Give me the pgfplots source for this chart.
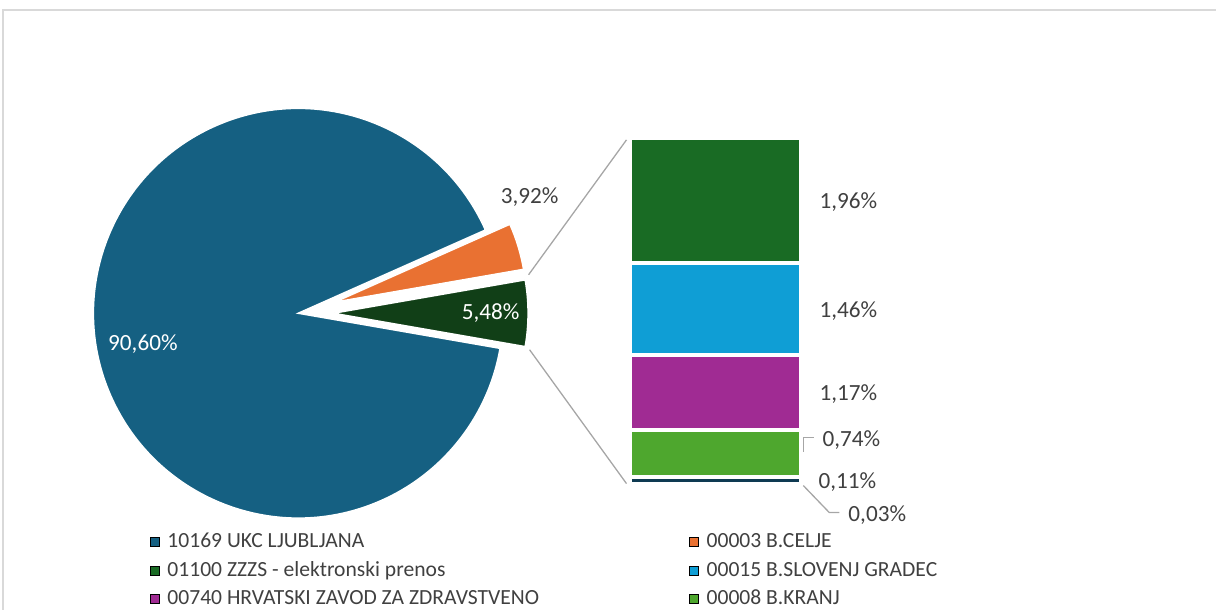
\documentclass[border=0pt]{standalone}
\usepackage{pgfplots}
\pgfplotsset{compat=1.18}
\usepackage{fontspec}
\setmainfont{Carlito}
\definecolor{c1}{HTML}{156082}
\definecolor{c2}{HTML}{E97132}
\definecolor{c3}{HTML}{196B24}
\definecolor{c4}{HTML}{0F9ED5}
\definecolor{c5}{HTML}{A02B93}
\definecolor{c6}{HTML}{4EA72E}
\definecolor{c7}{HTML}{0E3A52}
\definecolor{c8}{HTML}{8C4416}
\definecolor{cO}{HTML}{113F17}
\definecolor{txt}{HTML}{404040}
\definecolor{lgray}{HTML}{A6A6A6}
\definecolor{frame}{HTML}{D9D9D9}
% data (percent)
\def\vUKC{90.60}
\def\vCEL{3.92}
\def\vOTH{5.48}
\begin{document}
\begin{tikzpicture}
\pgfmathsetmacro\aO{\vOTH*1.8}
\pgfmathsetmacro\aC{\aO+\vCEL*3.6}
\pgfmathsetmacro\bC{(\aO+\aC)/2}
\pgfmathsetmacro\eU{360-\aO}
\pgfmathsetmacro\oxC{298.5+38*cos(\bC)}
\pgfmathsetmacro\oyC{296.5+38*sin(\bC)}
\pgfplotsset{legsq/.style={legend image code/.code={\fill (0pt,-2.2pt) rectangle (4.4pt,2.2pt);}}}
\begin{axis}[at={(315.5pt,62pt)}, anchor=south west, scale only axis,
  width=85.5pt, height=173.75pt, xmin=0, xmax=1, ymin=0, ymax=5.47,
  hide axis, clip=false, ybar stacked, bar width=85.5pt]
\addplot[fill=c8, draw=white, line width=2pt] coordinates {(0.5,0.03)};
\addplot[fill=c7, draw=white, line width=2pt] coordinates {(0.5,0.11)};
\addplot[fill=c6, draw=white, line width=2pt] coordinates {(0.5,0.74)};
\addplot[fill=c5, draw=white, line width=2pt] coordinates {(0.5,1.17)};
\addplot[fill=c4, draw=white, line width=2pt] coordinates {(0.5,1.46)};
\addplot[fill=c3, draw=white, line width=2pt] coordinates {(0.5,1.96)};
\end{axis}
\begin{axis}[name=main, at={(0pt,0pt)}, anchor=south west, scale only axis,
  width=608.5pt, height=305pt, xmin=0, xmax=1217, ymin=0, ymax=610,
  hide axis, clip=false,
  legend columns=2,
  legend cell align=left,
  legend style={at={(axis description cs:0.12325,0.1279)}, anchor=north west,
    draw=none, fill=none, inner sep=0pt, outer sep=0pt,
    font=\fontsize{10.8}{13}\selectfont, text=txt,
    column sep=4pt, row sep=3.75pt,
    nodes={inner sep=0pt, text height=8pt, text depth=2.5pt}},
]
\path (axis cs:0,0) rectangle (axis cs:1217,610);
\draw[frame, line width=1pt] (axis cs:3.5,0) -- (axis cs:3.5,600) -- (axis cs:1217,600);
% pie
\fill[c1, draw=white, line width=0.75pt] (axis cs:298.5,296.5) -- ++(\aC:102.5pt)
   arc[start angle=\aC, end angle=\eU, radius=102.5pt] -- cycle;
\fill[c2, draw=white, line width=0.75pt] (axis cs:\oxC,\oyC) -- ++(\aO:96pt)
   arc[start angle=\aO, end angle=\aC, radius=96pt] -- cycle;
\fill[cO, draw=white, line width=0.75pt] (axis cs:333.5,296.5) -- ++(-\aO:97.5pt)
   arc[start angle=-\aO, end angle=\aO, radius=97.5pt] -- cycle;
% connectors
\draw[lgray, line width=0.65pt] (axis cs:529,335) -- (axis cs:627,470);
\draw[lgray, line width=0.65pt] (axis cs:530,260) -- (axis cs:627,126);
\draw[lgray, line width=0.65pt] (axis cs:804,158) -- (axis cs:804,172) -- (axis cs:815,172);
\draw[lgray, line width=0.65pt] (axis cs:804,124) -- (axis cs:830,97) -- (axis cs:840,97);
% labels
\begin{scope}[every node/.style={font=\fontsize{11.6}{14}\selectfont, text=txt, inner sep=0pt}]
\node[text=white] at (axis cs:143,266) {90,60\%};
\node[text=white] at (axis cs:491,297) {5,48\%};
\node at (axis cs:530,413) {3,92\%};
\node at (axis cs:849,408) {1,96\%};
\node at (axis cs:849,299) {1,46\%};
\node at (axis cs:849,216) {1,17\%};
\node at (axis cs:852,170) {0,74\%};
\node at (axis cs:848,128) {0,11\%};
\node at (axis cs:878,95) {0,03\%};
\end{scope}
\addlegendimage{legsq, fill=c1}
\addlegendentry{\makebox[257pt][l]{10169 UKC LJUBLJANA}}
\addlegendimage{legsq, fill=c2}
\addlegendentry{00003 B.CELJE}
\addlegendimage{legsq, fill=c3}
\addlegendentry{\makebox[257pt][l]{01100 ZZZS - elektronski prenos}}
\addlegendimage{legsq, fill=c4}
\addlegendentry{00015 B.SLOVENJ GRADEC}
\addlegendimage{legsq, fill=c5}
\addlegendentry{\makebox[257pt][l]{00740 HRVATSKI ZAVOD ZA ZDRAVSTVENO}}
\addlegendimage{legsq, fill=c6}
\addlegendentry{00008 B.KRANJ}
\end{axis}
\end{tikzpicture}
\end{document}
